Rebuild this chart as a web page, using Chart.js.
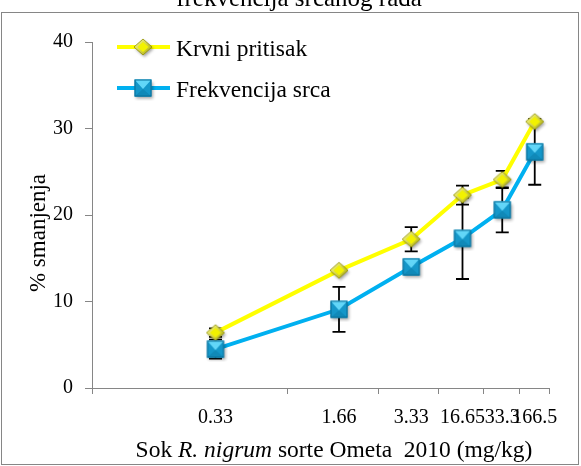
<!DOCTYPE html>
<html lang="sr">
<head>
<meta charset="UTF-8">
<title>Krvni pritisak i frekvencija srca</title>
<style>
  body { margin: 0; background: #fff; }
  .chart-container { position: relative; width: 581px; height: 466px; }
</style>
<script src="https://cdn.jsdelivr.net/npm/chart.js"></script>
</head>
<body>
<div class="chart-container"><canvas id="doseChart"></canvas></div>
<script>
  // doze soka (mg/kg), oznake na x osi
  const doses = ['0.33', '1.66', '3.33', '16.65', '33.3', '166.5'];
  // % smanjenja, ocitano sa slike
  const bloodPressure = [6.4, 13.6, 17.2, 22.3, 24.1, 30.8];
  const bloodPressureErr = [0.5, 0, 1.4, 1.1, 1.0, 0];
  const heartRate = [4.5, 9.1, 14.0, 17.3, 20.6, 27.3];
  const heartRateErr = [1.1, 2.6, 0.6, 4.7, 2.6, 3.8];
  const yTicks = [0, 10, 20, 30, 40];

  const SERIF = '"Liberation Serif", "Times New Roman", serif';
  const AXIS_GRAY = '#868686';

  // markeri sa malim "bevel" efektom kao u Excelu
  function makeDiamond() {
    const c = document.createElement('canvas');
    c.width = 26; c.height = 26;
    const g = c.getContext('2d');
    const cx = 13, cy = 13, rx = 9, ry = 8;
    const path = (k) => {
      g.beginPath();
      g.moveTo(cx, cy - ry * k); g.lineTo(cx + rx * k, cy);
      g.lineTo(cx, cy + ry * k); g.lineTo(cx - rx * k, cy);
      g.closePath();
    };
    g.save();
    g.shadowColor = 'rgba(0,0,0,0.35)'; g.shadowBlur = 3;
    g.shadowOffsetX = 1.5; g.shadowOffsetY = 2;
    path(1);
    const grad = g.createLinearGradient(cx - rx, cy - ry, cx + rx, cy + ry);
    grad.addColorStop(0, '#ffff99'); grad.addColorStop(1, '#a8a800');
    g.fillStyle = grad; g.fill();
    g.restore();
    path(0.62); g.fillStyle = '#f2f200'; g.fill();
    path(1); g.strokeStyle = '#8f8f00'; g.lineWidth = 0.8; g.stroke();
    return c;
  }

  function makeSquare() {
    const c = document.createElement('canvas');
    c.width = 26; c.height = 26;
    const g = c.getContext('2d');
    const cx = 13, cy = 13, h = 8.5;
    g.save();
    g.shadowColor = 'rgba(0,0,0,0.35)'; g.shadowBlur = 3;
    g.shadowOffsetX = 1.5; g.shadowOffsetY = 2;
    g.fillStyle = '#1597c9';
    g.fillRect(cx - h, cy - h, 2 * h, 2 * h);
    g.restore();
    // gornji svetli trougao
    g.beginPath();
    g.moveTo(cx - h, cy - h); g.lineTo(cx + h, cy - h); g.lineTo(cx, cy + 1);
    g.closePath(); g.fillStyle = '#62d6f8'; g.fill();
    g.beginPath();
    g.moveTo(cx - h, cy + h); g.lineTo(cx + h, cy + h); g.lineTo(cx, cy + 1);
    g.closePath(); g.fillStyle = '#1089b8'; g.fill();
    g.strokeStyle = '#0b6f98'; g.lineWidth = 1;
    g.strokeRect(cx - h + 0.5, cy - h + 0.5, 2 * h - 1, 2 * h - 1);
    return c;
  }

  const diamondImg = makeDiamond();
  const squareImg = makeSquare();

  // granice kategorija (oznake podele) i polozaji kategorija
  const catPos = doses.map((d, i) => i + 1);
  const xTickVals = [0.5].concat(doses.map((d, i) => i + 1.5)).concat(catPos).sort((a, b) => a - b);

  const errors = [bloodPressureErr, heartRateErr];

  const errorBars = {
    id: 'errorBars',
    beforeDatasetsDraw(chart) {
      const ctx = chart.ctx;
      const xs = chart.scales.x, ys = chart.scales.y;
      ctx.save();
      ctx.strokeStyle = '#000';
      ctx.lineWidth = 1.8;
      chart.data.datasets.forEach((ds, di) => {
        ds.data.forEach((p, i) => {
          const e = errors[di][i];
          if (!e) return;
          const px = xs.getPixelForValue(p.x);
          const top = ys.getPixelForValue(p.y + e);
          const bot = ys.getPixelForValue(p.y - e);
          ctx.beginPath();
          ctx.moveTo(px, top); ctx.lineTo(px, bot);
          ctx.moveTo(px - 6.5, top); ctx.lineTo(px + 6.5, top);
          ctx.moveTo(px - 6.5, bot); ctx.lineTo(px + 6.5, bot);
          ctx.stroke();
        });
      });
      ctx.restore();
    }
  };

  // naslov, nazivi osa, legenda i okvir
  const decorations = {
    id: 'decorations',
    afterDraw(chart) {
      const ctx = chart.ctx;
      ctx.save();
      ctx.strokeStyle = AXIS_GRAY;
      ctx.lineWidth = 1;
      ctx.strokeRect(1.5, 12.5, 577, 452);

      ctx.fillStyle = '#000';
      ctx.textBaseline = 'alphabetic';
      ctx.textAlign = 'center';
      ctx.font = '25px ' + SERIF;
      ctx.fillText('frekvencija srčanog rada', 299, 6);

      // naslov y ose
      ctx.font = '23px ' + SERIF;
      ctx.save();
      ctx.translate(45, 233);
      ctx.rotate(-Math.PI / 2);
      ctx.fillText('% smanjenja', 0, 0);
      ctx.restore();

      // naslov x ose, delimicno u kurzivu
      const parts = [
        ['Sok ', 'normal'],
        ['R. nigrum', 'italic'],
        [' sorte Ometa  2010 (mg/kg)', 'normal']
      ];
      let total = 0;
      parts.forEach(p => { ctx.font = p[1] + ' 23.5px ' + SERIF; total += ctx.measureText(p[0]).width; });
      let tx = 334 - total / 2;
      ctx.textAlign = 'left';
      parts.forEach(p => {
        ctx.font = p[1] + ' 23.5px ' + SERIF;
        ctx.fillText(p[0], tx, 457);
        tx += ctx.measureText(p[0]).width;
      });

      // legenda
      const rows = [
        { y: 47, ds: chart.data.datasets[0], img: diamondImg },
        { y: 88, ds: chart.data.datasets[1], img: squareImg }
      ];
      rows.forEach(r => {
        ctx.strokeStyle = r.ds.borderColor;
        ctx.lineWidth = 4;
        ctx.beginPath();
        ctx.moveTo(117, r.y); ctx.lineTo(170, r.y);
        ctx.stroke();
        ctx.drawImage(r.img, 143 - r.img.width / 2, r.y - r.img.height / 2);
        ctx.fillStyle = '#000';
        ctx.font = '23.5px ' + SERIF;
        ctx.fillText(r.ds.label, 176, r.y + 8.5);
      });
      ctx.restore();
    }
  };

  const ctx = document.getElementById('doseChart').getContext('2d');
  const doseChart = new Chart(ctx, {
    type: 'line',
    data: {
      datasets: [
        {
          label: 'Krvni pritisak',
          data: catPos.map((x, i) => ({ x: x, y: bloodPressure[i] })),
          borderColor: '#ffff00',
          borderWidth: 4,
          pointStyle: diamondImg,
          order: 1,
          tension: 0
        },
        {
          label: 'Frekvencija srca',
          data: catPos.map((x, i) => ({ x: x, y: heartRate[i] })),
          borderColor: '#00b0f0',
          borderWidth: 4,
          pointStyle: squareImg,
          order: 0,
          tension: 0
        }
      ]
    },
    options: {
      responsive: true,
      maintainAspectRatio: false,
      animation: false,
      layout: { padding: { top: 42, right: 32, left: 0, bottom: 0 } },
      plugins: {
        legend: { display: false },
        title: { display: false },
        tooltip: { enabled: false }
      },
      scales: {
        x: {
          type: 'logarithmic',
          min: 0.5,
          max: 6.5,
          afterBuildTicks: s => { s.ticks = xTickVals.map(v => ({ value: v })); },
          afterFit: s => { s.height = 78; },
          grid: {
            drawOnChartArea: false,
            tickLength: 6,
            tickColor: c => Number.isInteger(c.tick.value) ? 'rgba(0,0,0,0)' : AXIS_GRAY
          },
          border: { color: AXIS_GRAY, width: 1 },
          ticks: {
            autoSkip: false,
            maxRotation: 0,
            minRotation: 0,
            padding: 12,
            color: '#000',
            font: { family: SERIF, size: 20 },
            callback: v => Number.isInteger(v) ? doses[v - 1] : ''
          }
        },
        y: {
          min: 0,
          max: 40,
          afterBuildTicks: s => { s.ticks = yTicks.map(v => ({ value: v })); },
          afterFit: s => { s.width = 92; },
          grid: { drawOnChartArea: false, tickLength: 7, color: AXIS_GRAY },
          border: { color: AXIS_GRAY, width: 1 },
          ticks: {
            padding: 12,
            color: '#000',
            font: { family: SERIF, size: 20 }
          }
        }
      }
    },
    plugins: [errorBars, decorations]
  });
</script>
</body>
</html>
